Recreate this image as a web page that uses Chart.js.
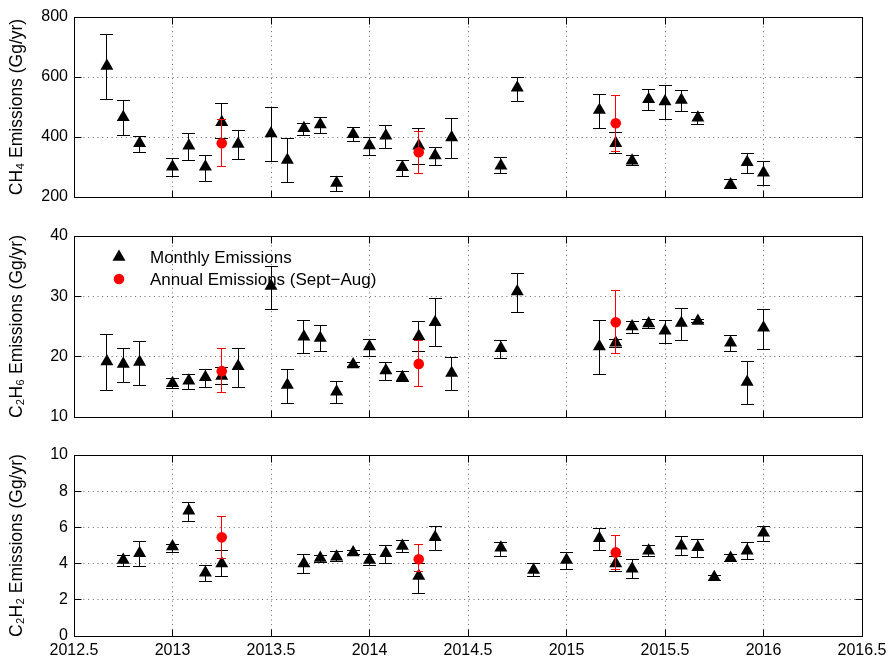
<!DOCTYPE html>
<html>
<head>
<meta charset="utf-8">
<script src="https://cdn.jsdelivr.net/npm/chart.js@4.4.0/dist/chart.umd.min.js"></script>
<style>
  html, body { margin: 0; padding: 0; background: #fff; }
  #wrap { position: relative; width: 892px; height: 660px; }
  canvas { position: absolute; left: 0; }
</style>
</head>
<body>
<div id="wrap">
  <canvas id="ch4" width="892" height="215" style="top:0px"></canvas>
  <canvas id="c2h6" width="892" height="220" style="top:215px"></canvas>
  <canvas id="c2h2" width="892" height="225" style="top:435px"></canvas>
</div>
<script>
// ─── Data ─────────────────────────────────────────────────────────────────────
const monthTimes = [2012.667, 2012.75, 2012.833, 2013.0, 2013.083, 2013.167, 2013.25, 2013.333,
    2013.5, 2013.583, 2013.667, 2013.75, 2013.833, 2013.917, 2014.0, 2014.083, 2014.167, 2014.25,
    2014.333, 2014.417, 2014.667, 2014.75, 2014.833, 2015.0, 2015.167, 2015.25, 2015.333, 2015.417,
    2015.5, 2015.583, 2015.667, 2015.75, 2015.833, 2015.917, 2016.0];

const ch4Monthly = [637, 466, 379, 301, 371, 301, 449, 377, 412, 323, 429, 442, 247, 409, 372, 404, 299, 371,
    338, 398, 304, 564, null, null, 490, 379, 321, 526, 518, 523, 464, null, 242, 316, 281];
const ch4Lower = [526, 404, 350, 269, 323, 251, 395, 324, 319, 248, 404, 412, 218, 386, 340, 362, 268, 310,
    306, 328, 277, 520, null, null, 430, 346, 304, 489, 457, 486, 443, null, 228, 278, 237];
const ch4Upper = [741, 522, 401, 328, 411, 340, 510, 421, 498, 394, 446, 464, 267, 431, 399, 437, 322, 429,
    366, 462, 331, 600, null, null, 543, 416, 338, 558, 571, 554, 483, null, 257, 346, 318];

const c2h6Monthly = [19.2, 18.8, 19.1, 15.6, 16.0, 16.6, 16.8, 18.4, 31.7, 15.3, 23.3, 23.1, 14.2, 18.7, 21.7, 17.7, 16.6, 23.4,
    25.7, 17.3, 21.4, 30.8, null, null, 21.7, 22.3, 25.0, 25.5, 24.3, 25.6, 25.9, null, 22.3, 15.8, 24.8];
const c2h6Lower = [14.4, 15.7, 15.2, 14.7, 14.6, 14.9, 15.4, 14.9, 27.8, 12.3, 20.6, 20.9, 12.2, 18.4, 20.1, 16.1, 15.9, 20.8,
    21.7, 14.4, 19.7, 27.4, null, null, 17.0, 21.5, 23.9, 24.6, 22.2, 22.6, 25.6, null, 20.8, 12.1, 21.2];
const c2h6Upper = [23.6, 21.4, 22.5, 16.4, 17.1, 17.9, 18.2, 21.4, 34.9, 17.9, 26.0, 25.1, 15.9, 19.0, 22.8, 19.0, 17.6, 25.8,
    29.7, 19.9, 22.6, 33.8, null, null, 26.0, 22.8, 25.9, 26.2, 26.0, 28.0, 26.2, null, 23.5, 19.2, 27.9];

const c2h2Monthly = [null, 4.20, 4.57, 4.94, 6.92, 3.50, 4.01, null, null, null, 4.01, 4.31, 4.38, 4.62, 4.20, 4.57, 4.97, 3.31,
    5.45, null, 4.88, null, 3.65, 4.20, 5.40, 4.01, 3.72, 4.71, null, 4.99, 4.90, 3.24, 4.31, 4.71, 5.71];
const c2h2Lower = [null, 3.83, 3.83, 4.60, 6.35, 3.00, 3.26, null, null, null, 3.46, 4.05, 4.09, 4.49, 3.87, 3.98, 4.59, 2.36,
    4.75, null, 4.38, null, 3.26, 3.65, 4.75, 3.54, 3.20, 4.38, null, 4.44, 4.36, 3.04, 4.09, 4.20, 5.21];
const c2h2Upper = [null, 4.46, 5.23, 5.08, 7.37, 3.90, 4.75, null, null, null, 4.49, 4.46, 4.66, 4.73, 4.53, 5.01, 5.30, 4.01,
    6.04, null, 5.17, null, 4.00, 4.62, 5.95, 4.38, 4.20, 4.99, null, 5.49, 5.32, 3.35, 4.53, 5.16, 6.04];

const annualTimes = [2013.25, 2014.25, 2015.25];
const ch4Annual = [379, 349, 446];
const ch4AnnualLower = [301, 277, 353];
const ch4AnnualUpper = [457, 418, 537];
const c2h6Annual = [17.6, 18.8, 25.7];
const c2h6AnnualLower = [14.0, 15.0, 20.5];
const c2h6AnnualUpper = [21.3, 22.7, 30.9];
const c2h2Annual = [5.45, 4.24, 4.62];
const c2h2AnnualLower = [4.29, 3.55, 3.65];
const c2h2AnnualUpper = [6.59, 5.05, 5.54];

const xTicks = [2012.5, 2013, 2013.5, 2014, 2014.5, 2015, 2015.5, 2016, 2016.5];
const xTickLabels = ['2012.5', '2013', '2013.5', '2014', '2014.5', '2015', '2015.5', '2016', '2016.5'];
const ch4Ticks = [200, 400, 600, 800];
const c2h6Ticks = [10, 20, 30, 40];
const c2h2Ticks = [0, 2, 4, 6, 8, 10];
const legendLabels = ['Monthly Emissions', 'Annual Emissions (Sept\u2212Aug)'];

// ─── Style ────────────────────────────────────────────────────────────────────
const FONT = '"Liberation Sans", Arial, Helvetica, sans-serif';
const TICK_LEN = 7;

function points(times, vals, lo, hi) {
    const out = [];
    times.forEach((t, i) => {
        if (vals[i] == null) return;
        out.push({ x: t, y: vals[i], lo: lo[i], hi: hi[i] });
    });
    return out;
}

function alignPx(p) { return Math.round(p - 0.5) + 0.5; }

// error bars, drawn just before each dataset's own markers
const errorBars = {
    id: 'errorBars',
    beforeDatasetDraw(chart, args) {
        const ds = chart.data.datasets[args.index];
        if (!ds.errorBar) return;
        const { ctx, scales: { x, y } } = chart;
        const { color, cap, width } = ds.errorBar;
        ctx.save();
        ctx.strokeStyle = color;
        ctx.lineWidth = width;
        ctx.beginPath();
        ds.data.forEach(p => {
            const px = alignPx(x.getPixelForValue(p.x));
            const top = alignPx(y.getPixelForValue(p.hi));
            const bot = alignPx(y.getPixelForValue(p.lo));
            ctx.moveTo(px, top); ctx.lineTo(px, bot);
            ctx.moveTo(px - cap, top); ctx.lineTo(px + cap, top);
            ctx.moveTo(px - cap, bot); ctx.lineTo(px + cap, bot);
        });
        ctx.stroke();
        ctx.restore();
    }
};

// box round the axes with inward tick marks (matlab look)
const frame = {
    id: 'frame',
    beforeDatasetsDraw(chart) {
        const { ctx, chartArea: a, scales: { x, y } } = chart;
        const l = alignPx(a.left), r = alignPx(a.right), t = alignPx(a.top), b = alignPx(a.bottom);
        ctx.save();
        ctx.strokeStyle = '#000';
        ctx.lineWidth = 1;
        ctx.strokeRect(l, t, r - l, b - t);
        ctx.beginPath();
        x.ticks.forEach(tk => {
            const px = alignPx(x.getPixelForValue(tk.value));
            ctx.moveTo(px, t); ctx.lineTo(px, t + TICK_LEN);
            ctx.moveTo(px, b); ctx.lineTo(px, b - TICK_LEN);
        });
        y.ticks.forEach(tk => {
            const py = alignPx(y.getPixelForValue(tk.value));
            ctx.moveTo(l, py); ctx.lineTo(l + TICK_LEN, py);
            ctx.moveTo(r, py); ctx.lineTo(r - TICK_LEN, py);
        });
        ctx.stroke();
        ctx.restore();
    }
};

// legend without a box, top-left inside the middle panel
const insideLegend = {
    id: 'insideLegend',
    afterDatasetsDraw(chart, args, opts) {
        if (!opts.show) return;
        const { ctx, chartArea: a } = chart;
        const items = [chart.data.datasets[1], chart.data.datasets[0]];
        ctx.save();
        ctx.font = '17px ' + FONT;
        ctx.textBaseline = 'middle';
        ctx.textAlign = 'left';
        items.forEach((ds, i) => {
            const cy = a.top + opts.top + i * opts.spacing;
            const cx = a.left + opts.markerX;
            ctx.fillStyle = ds.backgroundColor;
            ctx.strokeStyle = ds.borderColor;
            Chart.helpers.drawPoint(ctx, { pointStyle: ds.pointStyle, radius: ds.pointRadius, borderWidth: 0 }, cx, cy);
            ctx.fillStyle = '#000';
            ctx.fillText(legendLabels[i], a.left + opts.textX, cy + 1);
        });
        ctx.restore();
    }
};

Chart.register(errorBars, frame, insideLegend);

function makePanel(id, cfg) {
    return new Chart(document.getElementById(id), {
        type: 'scatter',
        data: {
            datasets: [{
                label: legendLabels[1],
                data: points(annualTimes, cfg.annual, cfg.annualLo, cfg.annualHi),
                pointStyle: 'circle',
                pointRadius: 5.3,
                backgroundColor: '#ff0000',
                borderColor: '#ff0000',
                borderWidth: 0,
                errorBar: { color: '#ff0000', cap: 4.5, width: 1 }
            }, {
                label: legendLabels[0],
                data: points(monthTimes, cfg.monthly, cfg.lo, cfg.hi),
                pointStyle: 'triangle',
                pointRadius: 7.5,
                backgroundColor: '#000',
                borderColor: '#000',
                borderWidth: 0,
                errorBar: { color: '#000', cap: 6.5, width: 1 }
            }]
        },
        options: {
            responsive: false,
            animation: false,
            events: [],
            layout: { padding: { left: 0, right: 30, top: cfg.padTop, bottom: cfg.padBottom } },
            plugins: {
                legend: { display: false },
                tooltip: { enabled: false },
                insideLegend: { show: !!cfg.legend, markerX: 45, textX: 76, top: 21, spacing: 22 }
            },
            scales: {
                x: {
                    type: 'linear',
                    min: 2012.5,
                    max: 2016.5,
                    afterBuildTicks: s => { s.ticks = xTicks.map(v => ({ value: v })); },
                    afterFit: s => { s.height = cfg.xHeight; },
                    grid: { color: 'rgba(0,0,0,0.6)', lineWidth: 1, drawTicks: false },
                    border: { display: false, dash: [1, 3.7] },
                    ticks: {
                        display: cfg.xLabels,
                        padding: 5,
                        maxRotation: 0,
                        color: '#000',
                        font: { family: FONT, size: 16 },
                        callback: v => xTickLabels[xTicks.indexOf(v)]
                    }
                },
                y: {
                    type: 'linear',
                    min: cfg.ticks[0],
                    max: cfg.ticks[cfg.ticks.length - 1],
                    afterBuildTicks: s => { s.ticks = cfg.ticks.map(v => ({ value: v })); },
                    afterFit: s => { s.width = 74; },
                    grid: { color: 'rgba(0,0,0,0.6)', lineWidth: 1, drawTicks: false },
                    border: { display: false, dash: [1, 3.7] },
                    ticks: {
                        padding: 6,
                        color: '#000',
                        font: { family: FONT, size: 16 },
                        callback: v => String(v)
                    },
                    title: {
                        display: true,
                        text: cfg.title,
                        color: '#000',
                        font: { family: FONT, size: 17.5, lineHeight: 1.2 },
                        padding: { top: 6.5, bottom: 0 }
                    }
                }
            }
        }
    });
}

// ─── Panels ───────────────────────────────────────────────────────────────────
makePanel('ch4', {
    monthly: ch4Monthly, lo: ch4Lower, hi: ch4Upper,
    annual: ch4Annual, annualLo: ch4AnnualLower, annualHi: ch4AnnualUpper,
    ticks: ch4Ticks, title: 'CH\u2084 Emissions (Gg/yr)',
    padTop: 17, padBottom: 18, xHeight: 0, xLabels: false
});

makePanel('c2h6', {
    monthly: c2h6Monthly, lo: c2h6Lower, hi: c2h6Upper,
    annual: c2h6Annual, annualLo: c2h6AnnualLower, annualHi: c2h6AnnualUpper,
    ticks: c2h6Ticks, title: 'C\u2082H\u2086 Emissions (Gg/yr)',
    padTop: 21, padBottom: 18, xHeight: 0, xLabels: false, legend: true
});

makePanel('c2h2', {
    monthly: c2h2Monthly, lo: c2h2Lower, hi: c2h2Upper,
    annual: c2h2Annual, annualLo: c2h2AnnualLower, annualHi: c2h2AnnualUpper,
    ticks: c2h2Ticks, title: 'C\u2082H\u2082 Emissions (Gg/yr)',
    padTop: 20, padBottom: 0, xHeight: 24, xLabels: true
});
</script>
</body>
</html>
